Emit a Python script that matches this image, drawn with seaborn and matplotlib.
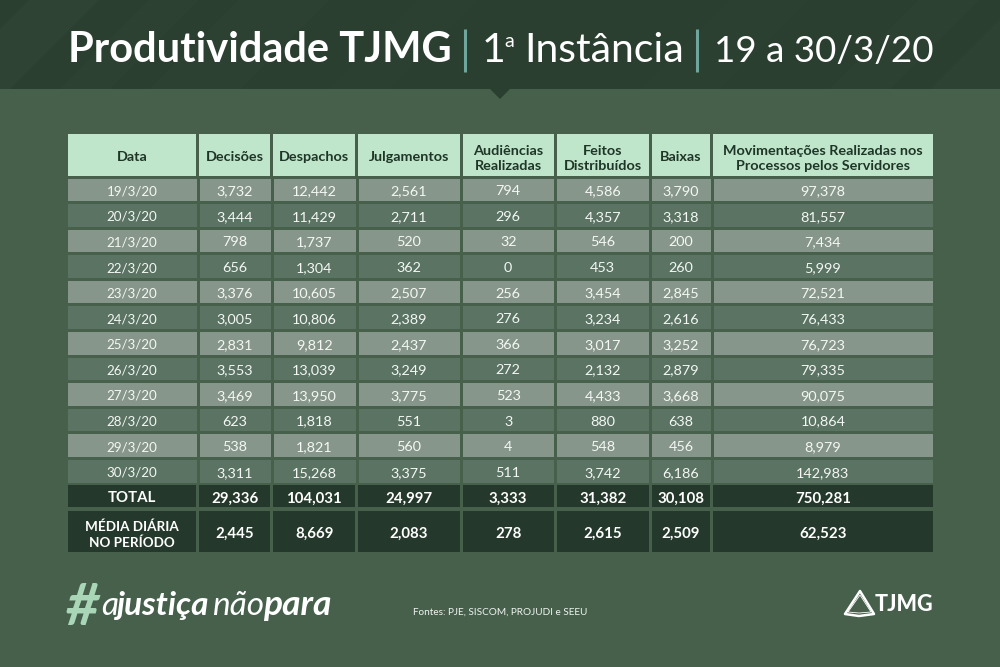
import numpy as np
import matplotlib
matplotlib.use("Agg")
import matplotlib.pyplot as plt
from matplotlib.colors import ListedColormap
from matplotlib.patches import Polygon
import seaborn as sns

# ---- data ----
col_titles = ["Data", "Decisões", "Despachos", "Julgamentos", "Audiências\nRealizadas",
              "Feitos\nDistribuídos", "Baixas",
              "Movimentações Realizadas nos\nProcessos pelos Servidores"]
datas = ["19/3/20", "20/3/20", "21/3/20", "22/3/20", "23/3/20", "24/3/20",
         "25/3/20", "26/3/20", "27/3/20", "28/3/20", "29/3/20", "30/3/20"]
decisoes = [3732, 3444, 798, 656, 3376, 3005, 2831, 3553, 3469, 623, 538, 3311]
despachos = [12442, 11429, 1737, 1304, 10605, 10806, 9812, 13039, 13950, 1818, 1821, 15268]
julgamentos = [2561, 2711, 520, 362, 2507, 2389, 2437, 3249, 3775, 551, 560, 3375]
audiencias = [794, 296, 32, 0, 256, 276, 366, 272, 523, 3, 4, 511]
feitos = [4586, 4357, 546, 453, 3454, 3234, 3017, 2132, 4433, 880, 548, 3742]
baixas = [3790, 3318, 200, 260, 2845, 2616, 3252, 2879, 3668, 638, 456, 6186]
movimentacoes = [97378, 81557, 7434, 5999, 72521, 76433, 76723, 79335, 90075, 10864, 8979, 142983]
total_row = ["TOTAL", 29336, 104031, 24997, 3333, 31382, 30108, 750281]
media_row = ["MÉDIA DIÁRIA\nNO PERÍODO", 2445, 8669, 2083, 278, 2615, 2509, 62523]

# ---- layout and style (pixels in the 1000x667 picture) ----
W, H = 1000, 667
col_edges = [(67.7, 196.3), (199, 270.2), (273, 355.3), (358.3, 459.7), (462.7, 553.7), (556.7, 648.8), (651.7, 710.3), (713, 932.7)]
gap = 3.0
header_span = (134.3, 175.7)
body_span = (176.5, 483.5)
total_span = (485, 507.4)
media_span = (510.7, 552.2)
BG, BAND = "#46604c", "#2b3f31"
HEAD, LIGHT, DARK, DEEP = "#bfe6cb", "#87968a", "#5a7362", "#24392b"
FONT = "Lato"

sns.set_theme(style="white")
plt.rcParams["font.family"] = [FONT, "DejaVu Sans"]
fig = plt.figure(figsize=(W / 100, H / 100), dpi=100, facecolor=BG)

# decorative panel in pixel coordinates
bg = fig.add_axes([0, 0, 1, 1], zorder=0)
bg.set_xlim(0, W); bg.set_ylim(H, 0); bg.axis("off")
bg.add_patch(Polygon([(0, 0), (W, 0), (W, 89), (510, 89), (500, 99), (490, 89), (0, 89)], fc=BAND, ec="none"))
for x0, w, a in [(-60, 70, .025), (60, 50, .012), (150, 90, .01), (330, 60, .008), (640, 80, .008), (830, 60, .01), (930, 90, .015)]:
    bg.add_patch(Polygon([(x0 + 89, 0), (x0 + 89 + w, 0), (x0 + w, 89), (x0, 89)], fc="white", alpha=a, ec="none"))


def block(x_span, y_span, values, labels, colors, text_color, size, weight, dy=0.0, spacing=1.18):
    """Draw one column block as a seaborn heatmap placed at pixel coordinates."""
    ax = fig.add_axes([x_span[0] / W, 1 - y_span[1] / H,
                       (x_span[1] - x_span[0]) / W, (y_span[1] - y_span[0]) / H], zorder=2)
    sns.heatmap(values, ax=ax, cmap=ListedColormap(colors), cbar=False, vmin=0, vmax=len(colors) - 1,
                annot=labels, fmt="", xticklabels=False, yticklabels=False,
                annot_kws=dict(color=text_color, fontsize=size, fontweight=weight, linespacing=spacing,
                               family=FONT, va="center_baseline"))
    # nudge labels down by dy pixels (heatmap y units are rows)
    unit = values.shape[0] / (y_span[1] - y_span[0])
    for t in ax.texts:
        t.set_y(t.get_position()[1] + dy * unit)
    ax.patch.set_alpha(0)
    return ax


def fmt(v):
    return v if isinstance(v, str) else f"{v:,}"


columns = [datas, decisoes, despachos, julgamentos, audiencias, feitos, baixas, movimentacoes]
bands = np.array([[0], [1]] * 6)
for i, span in enumerate(col_edges):
    block(span, header_span, np.zeros((1, 1)), np.array([[col_titles[i]]]), [HEAD], "#1f3527", 10.4, "bold", dy=0.8, spacing=1.32)
    labs = np.array([[fmt(v)] for v in columns[i]])
    # gaps between the rows come from the heatmap grid lines
    ax = block((span[0] - gap / 2, span[1] + gap / 2), body_span, bands, labs, [LIGHT, DARK], "#f4f7f4",
               9.6 if i == 0 else 10.4, "normal", dy=1.0)
    ax.collections[0].set_edgecolor(BG)
    ax.collections[0].set_linewidth(gap * 0.72)
    block(span, total_span, np.zeros((1, 1)), np.array([[fmt(total_row[i])]]), [DEEP], "white", 10.8, "bold", dy=0.8)
    block(span, media_span, np.zeros((1, 1)), np.array([[fmt(media_row[i])]]), [DEEP], "white",
          9.7 if i == 0 else 10.8, "bold", dy=0.6, spacing=1.3)

# title
tx = fig.add_axes([0, 0, 1, 1], zorder=3)
tx.set_xlim(0, W); tx.set_ylim(H, 0); tx.axis("off"); tx.patch.set_alpha(0)
tx.text(68, 62, "Produtividade TJMG", color="white", fontsize=30, fontweight="bold", va="baseline", ha="left")
tx.text(482, 62, "1", color="white", fontsize=29.5, va="baseline", ha="left")
tx.text(504, 47, "a", color="white", fontsize=14, va="baseline", ha="left")
tx.text(524, 62, "Instância", color="white", fontsize=29.5, va="baseline", ha="left")
tx.text(714, 62, "19 a 30/3/20", color="white", fontsize=26.5, va="baseline", ha="left")
for x in (465.3, 697.3):
    tx.plot([x, x], [29, 72], color="#6fa69c", lw=2.2, solid_capstyle="butt")

# footer
tx.text(66, 625, "#", color="#a9d6b7", fontsize=42, fontweight="bold", fontstyle="italic", va="baseline")
tx.text(101, 615, "a", color="white", fontsize=24, fontstyle="italic", va="baseline")
tx.text(116, 615, "justiça", color="white", fontsize=24, fontweight="bold", fontstyle="italic", va="baseline")
tx.text(212, 615, "não", color="white", fontsize=24, fontstyle="italic", va="baseline")
tx.text(263, 615, "para", color="white", fontsize=25.5, fontweight="bold", fontstyle="italic", va="baseline")
tx.text(413, 615, "Fontes: PJE, SISCOM, PROJUDI e SEEU", color="#f0f4f0", fontsize=7.2, va="baseline")

# logo
tx.add_patch(Polygon([(845, 614), (860, 591), (874, 614), (859, 616)], closed=True, fc="none", ec="white", lw=1.8, joinstyle="round"))
tx.add_patch(Polygon([(848, 612), (860, 595), (871, 612), (859, 613)], closed=True, fc="none", ec="white", lw=0.6, joinstyle="round"))
tx.text(933, 611, "TJMG", color="white", fontsize=15.5, fontweight="black", ha="right", va="baseline")

fig.savefig("out.png", dpi=100, facecolor=BG)
